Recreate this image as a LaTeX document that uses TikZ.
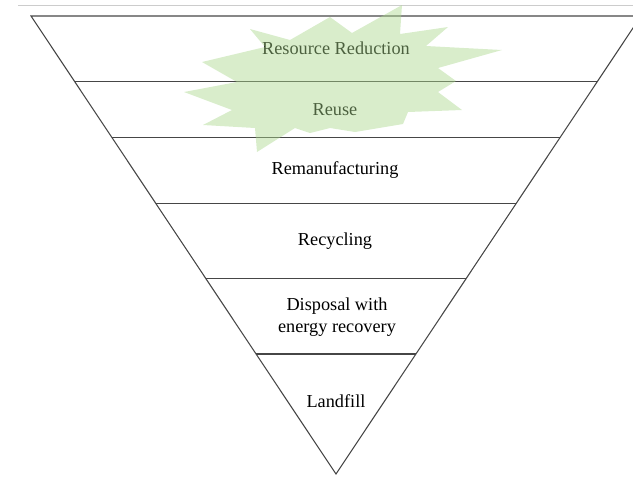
\documentclass[tikz,border=0pt]{standalone}
\usepackage{fontspec}
\setmainfont{Liberation Serif}
\usetikzlibrary{positioning,calc}
\definecolor{burstgreen}{RGB}{170,215,140}
\definecolor{edgegray}{RGB}{70,70,70}

\begin{document}
\begin{tikzpicture}[x=0.75pt,y=-0.75pt,
                    layer line/.style={draw=edgegray,line width=0.8pt},
                    level label/.style={align=center,inner sep=1pt,font=\fontsize{13.7}{16.5}\selectfont},
                    burst/.style={fill=burstgreen,fill opacity=0.45}
                   ]
  \useasboundingbox (0,0) rectangle (633,476);
  \clip (0,0) rectangle (633,476);

  % corners of the funnel
  \coordinate (tl) at (31,16);
  \coordinate (tr) at (641,16);
  \coordinate (ap) at (336,474);

  % faint rule above the funnel
  \draw[gray!40,line width=0.7pt] (18,5) -- (640,5);

  \draw[layer line] (tr) -- (tl) -- (ap) -- cycle;
  \foreach \t in {0.144,0.266,0.410,0.574,0.738}
    \draw[layer line] ($(tl)!\t!(ap)$) -- ($(tr)!\t!(ap)$);

  % level labels
  \node[level label] (reduce) at (336,48) {Resource Reduction};
  \node[level label] (reuse) at (335,110) {Reuse};
  \node[level label] (reman) at (335,170) {Remanufacturing};
  \node[level label] (recyc) at (335,241) {Recycling};
  \node[level label] (dispo) at (337,317) {Disposal with\\energy recovery};
  \node[level label] (fill) at (336,401) {Landfill};

  % starburst over the top two levels
  \fill[burst] plot coordinates {
      (402,5) (400,34) (448,27) (426,46) (502,50) (438,68)
      (456,81) (438,92) (462,110) (408,112) (403,124) (355,132)
      (330,128) (310,133) (295,128) (257,152) (255,128) (203,125)
      (232,110) (184,92) (237,82) (202,62) (265,47) (250,29)
      (290,40) (330,17) (352,33)} -- cycle;
\end{tikzpicture}
\end{document}
